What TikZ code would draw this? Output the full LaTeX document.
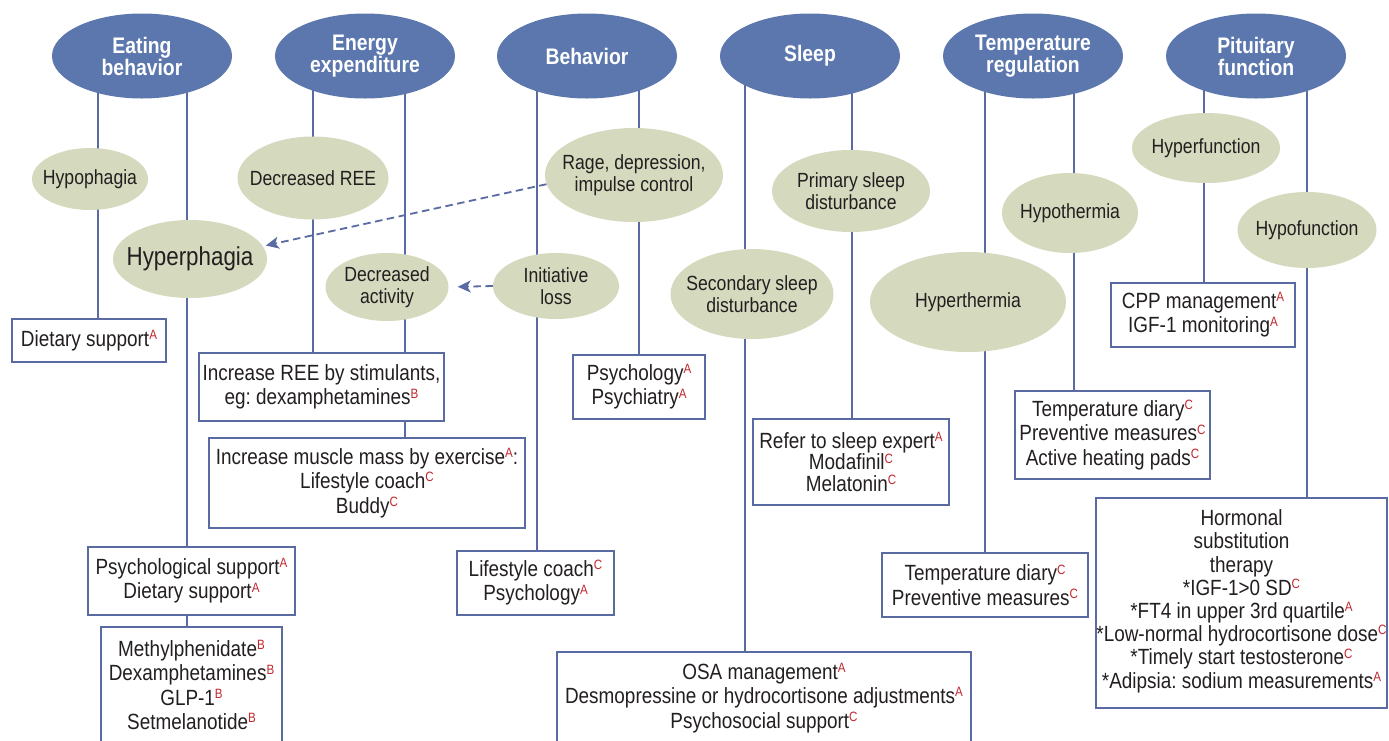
\documentclass[tikz,border=0pt]{standalone}
\usepackage{fontspec}
\setmainfont{Liberation Sans}[FakeStretch=0.86]
\usetikzlibrary{shapes.geometric,arrows.meta,backgrounds}
\definecolor{topblue}{HTML}{5B77AD}
\definecolor{khaki}{HTML}{D5D9BD}
\definecolor{linec}{HTML}{5A6AA2}
\definecolor{txt}{HTML}{231F20}
\definecolor{supred}{HTML}{C1272D}
\newcommand\gr[1]{\raisebox{6.8pt}{\fontsize{13.5}{13.5}\selectfont\color{supred}#1}}
\begin{document}
\begin{tikzpicture}[x=1pt,y=-1pt,
  topell/.style={ellipse, fill=topblue, draw=none, minimum width=180pt, minimum height=85pt, inner sep=0pt},
  toptxt/.style={text=white, font=\fontsize{22.5}{20.5}\selectfont\bfseries\frenchspacing, align=center, inner sep=0pt},
  subell/.style={ellipse, fill=khaki, draw=none, inner sep=0pt},
  subtxt/.style={text=txt, font=\fontsize{20.5}{22.5}\selectfont\frenchspacing, align=center, inner sep=0pt},
  tbox/.style={rectangle, draw=linec, line width=2pt, fill=white, text=txt, font=\fontsize{22}{24.3}\selectfont\frenchspacing, align=center, inner sep=0pt},
  conn/.style={draw=linec, line width=2pt},
  darr/.style={draw=linec, line width=1.8pt, dash pattern=on 7.5pt off 4.5pt, -{Stealth[length=13pt,width=12pt,inset=3.5pt]}}
]
\useasboundingbox (0,0) rectangle (1389,740);
\clip (0,0) rectangle (1389,740);

% top-level ellipses
\node[topell] (eat) at (142,56) {};
\node[toptxt] (eatT) at (eat) {Eating\\behavior};
\node[topell] (en) at (365,56) {};
\node[toptxt] (enT) at (en) {Energy\\expenditure};
\node[topell] (be) at (587,56) {};
\node[toptxt] (beT) at (be) {Behavior};
\node[topell] (sl) at (810,56) {};
\node[toptxt] (slT) at (sl) {Sleep};
\node[topell] (te) at (1033,56) {};
\node[toptxt] (teT) at (te) {Temperature\\regulation};
\node[topell] (pi) at (1256,56) {};
\node[toptxt] (piT) at (pi) {Pituitary\\function};

% second-level ellipses
\node[subell, minimum width=116pt, minimum height=62pt] (hypo) at (90,179) {};
\node[subtxt] (hypoT) at (hypo) {Hypophagia};
\node[subell, minimum width=154pt, minimum height=78pt] (hyper) at (190,259) {};
\node[subtxt, font=\fontsize{26}{26}\selectfont] (hyperT) at (hyper) {Hyperphagia};
\node[subell, minimum width=151pt, minimum height=83pt] (decree) at (313,178) {};
\node[subtxt] (decreeT) at (decree) {Decreased REE};
\node[subell, minimum width=123pt, minimum height=68pt] (decact) at (387,287) {};
\node[subtxt] (decactT) at (decact) {Decreased\\activity};
\node[subell, minimum width=178pt, minimum height=94pt] (rage) at (634,175) {};
\node[subtxt] (rageT) at (rage) {Rage, depression,\\impulse control};
\node[subell, minimum width=126pt, minimum height=66pt] (init) at (556,286) {};
\node[subtxt] (initT) at (init) {Initiative\\loss};
\node[subell, minimum width=158pt, minimum height=82pt] (prim) at (851,191) {};
\node[subtxt] (primT) at (prim) {Primary sleep\\disturbance};
\node[subell, minimum width=163pt, minimum height=90pt] (sec) at (752,294) {};
\node[subtxt] (secT) at (sec) {Secondary sleep\\disturbance};
\node[subell, minimum width=196pt, minimum height=100pt] (hyperth) at (968,302) {};
\node[subtxt] (hyperthT) at (hyperth) {Hyperthermia};
\node[subell, minimum width=136pt, minimum height=80pt] (hypoth) at (1070,213) {};
\node[subtxt] (hypothT) at (hypoth) {Hypothermia};
\node[subell, minimum width=148pt, minimum height=70pt] (hyperf) at (1206,148) {};
\node[subtxt] (hyperfT) at (hyperf) {Hyperfunction};
\node[subell, minimum width=139pt, minimum height=76pt] (hypof) at (1307,230) {};
\node[subtxt] (hypofT) at (hypof) {Hypofunction};

% boxes
\node[tbox, minimum width=154pt, minimum height=43pt] (diet) at (89,340.5) {Dietary support\gr{A}};
\node[tbox, minimum width=245pt, minimum height=68pt] (incree) at (321.5,387) {Increase REE by stimulants,\\eg: dexamphetamines\gr{B}};
\node[tbox, minimum width=316pt, minimum height=90pt] (muscle) at (367,483) {Increase muscle mass by exercise\gr{A}:\\Lifestyle coach\gr{C}\\Buddy\gr{C}};
\node[tbox, minimum width=207pt, minimum height=68pt] (psychol) at (191.5,581) {Psychological support\gr{A}\\Dietary support\gr{A}};
\node[tbox, minimum width=181pt, minimum height=116pt] (methyl) at (191.5,685) {Methylphenidate\gr{B}\\Dexamphetamines\gr{B}\\GLP-1\gr{B}\\Setmelanotide\gr{B}};
\node[tbox, minimum width=132pt, minimum height=64pt] (psychbeh) at (639,387) {Psychology\gr{A}\\Psychiatry\gr{A}};
\node[tbox, minimum width=157pt, minimum height=64pt] (lifest) at (535.5,583) {Lifestyle coach\gr{C}\\Psychology\gr{A}};
\node[tbox, minimum width=196pt, minimum height=86pt, font=\fontsize{22}{21.5}\selectfont] (refer) at (851,462) {Refer to sleep expert\gr{A}\\Modafinil\gr{C}\\Melatonin\gr{C}};
\node[tbox, minimum width=414pt, minimum height=92pt] (osa) at (764,698) {OSA management\gr{A}\\Desmopressine or hydrocortisone adjustments\gr{A}\\Psychosocial support\gr{C}};
\node[tbox, minimum width=206pt, minimum height=64pt] (tempd) at (985,585) {Temperature diary\gr{C}\\Preventive measures\gr{C}};
\node[tbox, minimum width=195pt, minimum height=88pt] (heat) at (1112.5,435) {Temperature diary\gr{C}\\Preventive measures\gr{C}\\Active heating pads\gr{C}};
\node[tbox, minimum width=184pt, minimum height=64pt] (cpp) at (1203,315) {CPP management\gr{A}\\IGF-1 monitoring\gr{A}};
\node[tbox, minimum width=291pt, minimum height=210pt, font=\fontsize{22}{23.2}\selectfont\frenchspacing] (horm) at (1241.5,603) {Hormonal\\substitution\\therapy\\*IGF-1>0 SD\gr{C}\\*FT4 in upper 3rd quartile\gr{A}\\*Low-normal hydrocortisone dose\gr{C}\\*Timely start testosterone\gr{C}\\*Adipsia: sodium measurements\gr{A}\\[-15pt]\mbox{}};

% line positions
\coordinate (eatL) at ([xshift=-44pt]eat.center);
\coordinate (eatR) at ([xshift=45pt]eat.center);
\coordinate (enL) at ([xshift=-52pt]en.center);
\coordinate (enR) at ([xshift=40pt]en.center);
\coordinate (beL) at ([xshift=-50pt]be.center);
\coordinate (beR) at ([xshift=52pt]be.center);
\coordinate (slL) at ([xshift=-65pt]sl.center);
\coordinate (slR) at ([xshift=42pt]sl.center);
\coordinate (teL) at ([xshift=-48pt]te.center);
\coordinate (teR) at ([xshift=41pt]te.center);
\coordinate (piL) at ([xshift=-52pt]pi.center);
\coordinate (piR) at ([xshift=51pt]pi.center);

\begin{scope}[on background layer]
  \fill[white] (0,0) rectangle (1389,740);
  \draw[conn] (eatL) -- (eatL |- diet.north);
  \draw[conn] (eatR) -- (eatR |- methyl.north);
  \draw[conn] (enL) -- (enL |- incree.north);
  \draw[conn] (enR) -- (enR |- muscle.north);
  \draw[conn] (beL) -- (beL |- lifest.north);
  \draw[conn] (beR) -- (beR |- psychbeh.north);
  \draw[conn] (slL) -- (slL |- osa.north);
  \draw[conn] (slR) -- (slR |- refer.north);
  \draw[conn] (teL) -- (teL |- tempd.north);
  \draw[conn] (teR) -- (teR |- heat.north);
  \draw[conn] (piL) -- (piL |- cpp.north);
  \draw[conn] (piR) -- (piR |- horm.north);
\end{scope}

% dashed arrows
\draw[darr, shorten >=3pt] (rage.186) -- (hyper.10);
\draw[darr, shorten >=9pt] (init.west) -- (decact.east);
\end{tikzpicture}
\end{document}
